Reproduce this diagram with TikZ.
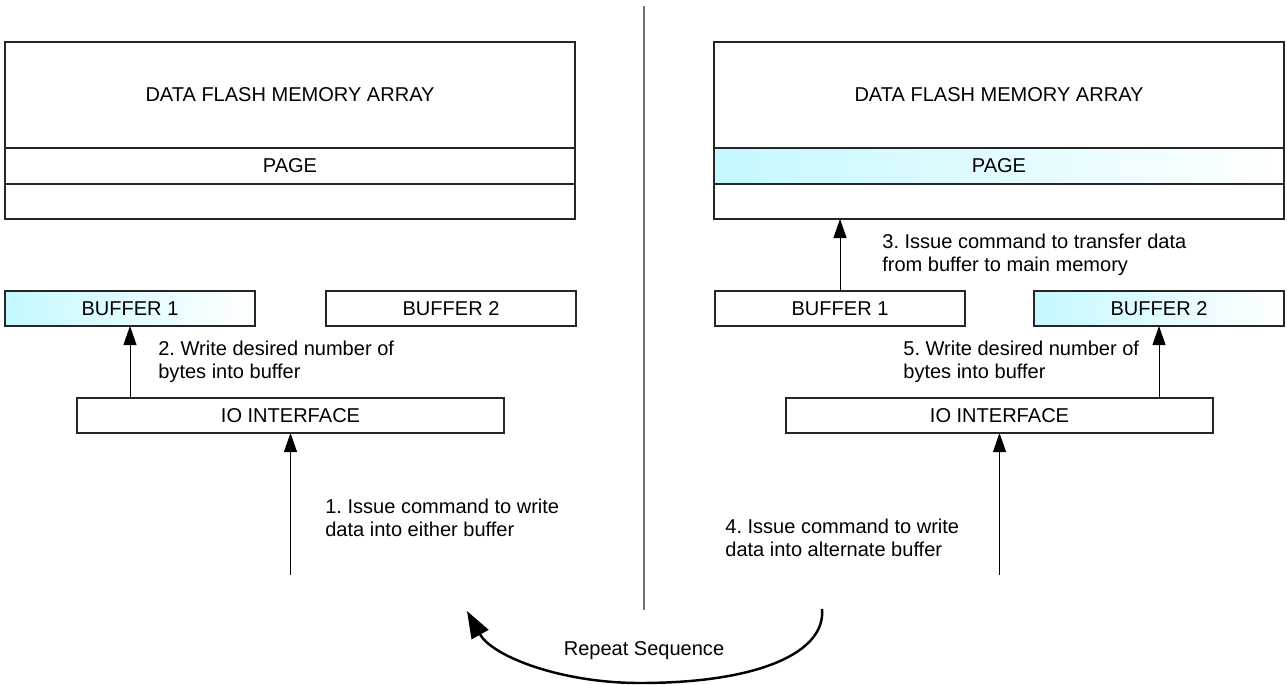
\documentclass[tikz,border=0pt]{standalone}
\usepackage{fontspec}
\setmainfont{Liberation Sans}
\usetikzlibrary{arrows.meta}
\definecolor{hilite}{RGB}{196,248,255}
\frenchspacing
\begin{document}
\begin{tikzpicture}[x=0.02cm,y=-0.02cm,
    font=\fontsize{11.4pt}{13.1pt}\selectfont,
    box/.style={draw=black!85,line width=0.7pt,inner sep=0pt,outer sep=0pt,minimum height=0.7cm},
    wide/.style={box,minimum width=11.4cm},
    buf/.style={box,minimum width=5cm},
    io/.style={box,minimum width=8.54cm},
    lit/.style={left color=hilite,right color=white},
    note/.style={anchor=west,align=left,inner sep=0pt},
    up/.style={-{Triangle[length=0.38cm,width=0.26cm]},line width=0.5pt}]
  \useasboundingbox (0,0) rectangle (1287,684);
  \node[wide,minimum height=2.12cm] (arrL) at (290,95) {DATA FLASH MEMORY ARRAY};
  \node[wide,minimum height=0.72cm] (pageL) at (290,166) {PAGE};
  \node[wide] (restL) at (290,201.5) {};
  \node[wide,minimum height=2.12cm] (arrR) at (999,95) {DATA FLASH MEMORY ARRAY};
  \node[wide,lit,minimum height=0.72cm] (pageR) at (999,166) {PAGE};
  \node[wide] (restR) at (999,201.5) {};
  \node[buf,lit] (buf1L) at (130,308.5) {BUFFER 1};
  \node[buf] (buf2L) at (451,308.5) {BUFFER 2};
  \node[buf] (buf1R) at (840,308.5) {BUFFER 1};
  \node[buf,lit] (buf2R) at (1159,308.5) {BUFFER 2};
  \node[io] (ioL) at (290.5,415.5) {IO INTERFACE};
  \node[io] (ioR) at (999.5,415.5) {IO INTERFACE};
  \coordinate (inL) at (290.5,575);
  \coordinate (inR) at (999.5,575);
  \node[note] (s1) at (325,517.5) {1. Issue command to write\\data into either buffer};
  \node[note] (s2) at (158,362) {2. Write desired number of\\bytes into buffer};
  \node[note] (s3) at (882,255) {3. Issue command to transfer data\\from buffer to main memory};
  \node[note] (s4) at (725,537.5) {4. Issue command to write\\data into alternate buffer};
  \node[note] (s5) at (903,362) {5. Write desired number of\\bytes into buffer};
  \begin{scope}[up]
    \draw (inL) -- (ioL.south);
    \draw (buf1L.south |- ioL.north) -- (buf1L.south);
    \draw (buf1R.north) -- (buf1R.north |- restR.south);
    \draw (inR) -- (ioR.south);
    \draw (buf2R.south |- ioR.north) -- (buf2R.south);
  \end{scope}
  \coordinate (divTop) at (644,6);
  \coordinate (divBot) at (644,610);
  \draw[black!55,line width=0.8pt] (divTop) -- (divBot);
  \node (rep) at (644,651) {Repeat Sequence};
  \coordinate (rsA) at (822,609);
  \coordinate (rsM) at (640,683);
  \coordinate (rsB) at (467,611);
  \draw[-{Triangle[length=0.54cm,width=0.38cm]},line width=1.4pt]
    (rsA) .. controls (826,652) and (760,683) .. (rsM)
    .. controls (560,683) and (492,656) .. (rsB);
\end{tikzpicture}
\end{document}
